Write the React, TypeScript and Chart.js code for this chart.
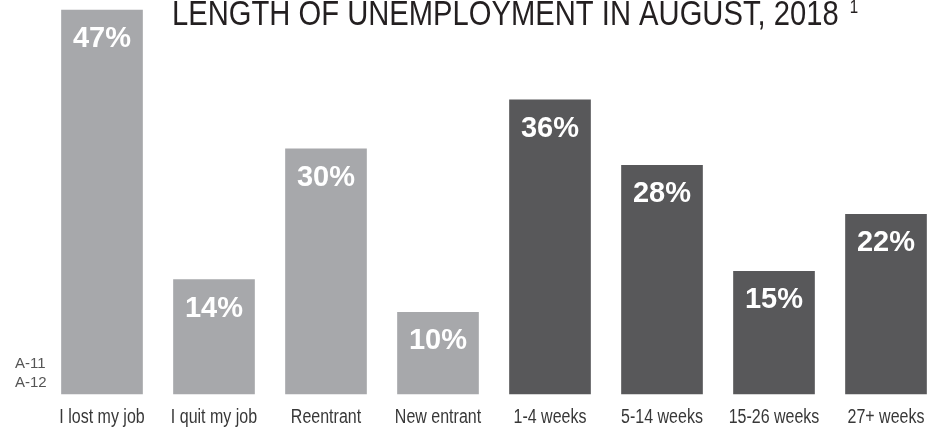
import React, { useEffect, useRef } from "react";
import { Chart, registerables } from "chart.js";

Chart.register(...registerables);

const categories = [
  "I lost my job",
  "I quit my job",
  "Reentrant",
  "New entrant",
  "1-4 weeks",
  "5-14 weeks",
  "15-26 weeks",
  "27+ weeks",
];
const shares = [47, 14, 30, 10, 36, 28, 15, 22];
const barGroups = ["reason", "reason", "reason", "reason", "duration", "duration", "duration", "duration"];
const titleText = "LENGTH OF UNEMPLOYMENT IN AUGUST, 2018";
const titleNote = "1";
const sideNotes = ["A-11", "A-12"];

const groupColors: Record<string, string> = {
  reason: "#a7a8ab",
  duration: "#58585a",
};

const SANS = "'Liberation Sans', Arial, sans-serif";

// draw text horizontally condensed (narrow face emulation)
function narrowText(ctx: any, text: string, x: number, y: number, squeeze: number, align: string) {
  ctx.save();
  ctx.translate(x, y);
  ctx.scale(squeeze, 1);
  ctx.textAlign = align;
  ctx.fillText(text, 0, 0);
  ctx.restore();
}

const decorPlugin = {
  id: "decor",
  afterDatasetsDraw(chart: any) {
    const ctx = chart.ctx;
    const meta = chart.getDatasetMeta(0);
    ctx.save();
    ctx.fillStyle = "#ffffff";
    ctx.font = `bold 29px ${SANS}`;
    ctx.textAlign = "center";
    ctx.textBaseline = "alphabetic";
    meta.data.forEach((bar: any, i: number) => {
      const v = chart.data.datasets[0].data[i];
      ctx.fillText(`${v}%`, bar.x, bar.y + 37);
    });

    // category labels (through the x scale)
    const xScale = chart.scales.x;
    ctx.fillStyle = "#383838";
    ctx.font = `20px ${SANS}`;
    chart.data.labels.forEach((lab: string, i: number) => {
      narrowText(ctx, lab, xScale.getPixelForTick(i), 423, 0.8, "center");
    });

    // title
    ctx.fillStyle = "#231f20";
    ctx.font = `35px ${SANS}`;
    narrowText(ctx, titleText, 172, 25, 0.834, "left");
    const w = ctx.measureText(titleText).width * 0.834;
    ctx.font = `18px ${SANS}`;
    narrowText(ctx, titleNote, 172 + w + 11, 13, 0.84, "left");

    // side notes
    ctx.fillStyle = "#555555";
    ctx.font = `15px ${SANS}`;
    ctx.textAlign = "left";
    ctx.fillText(sideNotes[0], 15, 368);
    ctx.fillText(sideNotes[1], 15, 387);
    ctx.restore();
  },
};

export default function App() {
  const canvasRef = useRef<HTMLCanvasElement | null>(null);

  useEffect(() => {
    if (!canvasRef.current) return;
    const chart = new Chart(canvasRef.current, {
      type: "bar",
      data: {
        labels: categories,
        datasets: [
          {
            data: shares,
            backgroundColor: barGroups.map((g) => groupColors[g]),
            borderWidth: 0,
            barThickness: 81,
            clip: false as any,
          },
        ],
      },
      options: {
        animation: false,
        responsive: true,
        maintainAspectRatio: false,
        layout: { padding: { left: 102, right: 46, top: 10, bottom: 0 } },
        plugins: {
          legend: { display: false },
          tooltip: { enabled: false },
          title: { display: false },
        },
        scales: {
          x: {
            offset: false,
            grid: { display: false, drawTicks: false },
            border: { display: false },
            ticks: { display: false },
            afterFit: (scale: any) => {
              scale.height = 41;
            },
          },
          y: {
            display: false,
            min: 0,
            max: 47,
          },
        },
      },
      plugins: [decorPlugin],
    });
    return () => chart.destroy();
  }, []);

  return (
    <div style={{ position: "fixed", left: 0, top: 0, width: 932, height: 435, background: "#ffffff" }}>
      <canvas ref={canvasRef} />
    </div>
  );
}
